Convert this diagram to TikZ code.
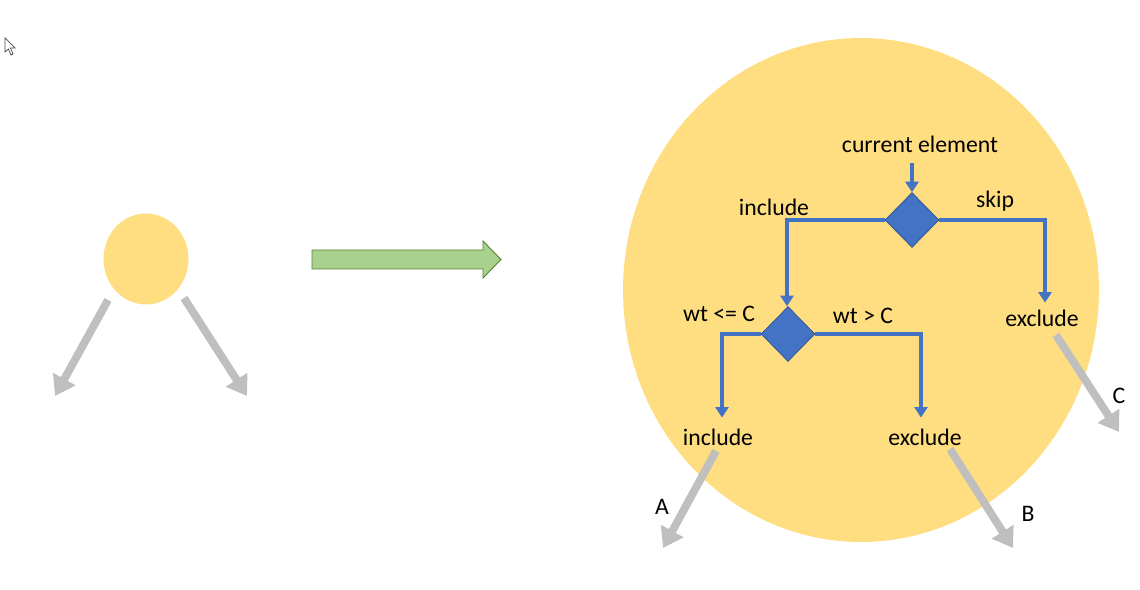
\documentclass[tikz,border=0pt]{standalone}
\usepackage{fontspec}
\setmainfont{Carlito}
\usetikzlibrary{arrows.meta,shapes.geometric}

\definecolor{sunyellow}{HTML}{FFDE81}
\definecolor{flowblue}{HTML}{4472C4}
\definecolor{flowedge}{HTML}{2F528F}
\definecolor{treegray}{HTML}{BFBFBF}
\definecolor{arrowgreen}{HTML}{A9D18E}
\definecolor{greenedge}{HTML}{548235}

\tikzset{
  decision/.style={diamond,fill=flowblue,draw=flowedge,line width=0.4pt,inner sep=0pt,minimum width=1.08cm,minimum height=1.1cm},
  flow/.style={draw=flowblue,line width=2pt,-{Triangle[width=7.5pt,length=6pt]}},
  branch/.style={draw=treegray,line width=4.5pt,-{Triangle[width=14pt,length=11pt]}}
}

\begin{document}
\begin{tikzpicture}[x=0.02cm,y=-0.02cm,font=\fontsize{13.5}{16}\selectfont]
\useasboundingbox (0,0) rectangle (1140,590);

% mouse pointer
\draw[black!70,line width=0.4pt,fill=white] (5,38) -- (5,52) -- (8.5,49) -- (11,55) -- (13,54) -- (10.5,48) -- (15,48) -- cycle;

% the two circles
\node[ellipse,fill=sunyellow,inner sep=0pt,minimum width=1.7cm,minimum height=1.82cm] (root) at (146,259) {};
\node[ellipse,fill=sunyellow,inner sep=0pt,minimum width=9.52cm,minimum height=10.08cm] (zoom) at (861,290) {};

% green arrow
\draw[fill=arrowgreen,draw=greenedge,line width=0.5pt] (312,250) -- (483,250) -- (483,241) -- (501,259.5) -- (483,278) -- (483,269) -- (312,269) -- cycle;

\begin{scope}[every node/.style={inner sep=1pt}]
	\node (cur) at (920,144) {current element};
	\node[decision] (D1) at (912,220) {};
	\node[decision] (D2) at (788,334) {};
	\node (incT) at (774,207) {include};
	\node (skip) at (995,201) {skip};
	\node (excR) at (1042,318) {exclude};
	\node (le) at (719,314) {wt <= C};
	\node (gt) at (863,316) {wt > C};
	\node (incB) at (718,437) {include};
	\node (excB) at (925,437) {exclude};
	\node (A) at (662,507) {A};
	\node (B) at (1028,514) {B};
	\node (C) at (1119,396) {C};
\end{scope}

\begin{scope}
	\path [flow] (D1.north |- cur.south) [shorten <=5pt] -- (D1.north);
	\path [flow] (D1.west) -| ([xshift=-0.02cm]D2.north);
	\path [flow] (D1.east) -| ([xshift=0.06cm,yshift=0.1cm]excR.north);
	\path [flow] (D2.west) -| ([xshift=0.08cm,yshift=0.18cm]incB.north);
	\path [flow] (D2.east) -| ([xshift=-0.08cm,yshift=0.18cm]excB.north);
\end{scope}

% grey branches
\coordinate (rl) at (108,300);
\coordinate (rlTip) at (55,396);
\coordinate (rr) at (184,298);
\coordinate (rrTip) at (247,396);
\coordinate (aS) at (716,451);
\coordinate (aTip) at (663,548);
\coordinate (bS) at (950,449);
\coordinate (bTip) at (1013,548);
\coordinate (cS) at (1056,335);
\coordinate (cTip) at (1119,432);
\begin{scope}
	\path [branch] (rl) -- (rlTip);
	\path [branch] (rr) -- (rrTip);
	\path [branch] (aS) -- (aTip);
	\path [branch] (bS) -- (bTip);
	\path [branch] (cS) -- (cTip);
\end{scope}
\end{tikzpicture}
\end{document}
